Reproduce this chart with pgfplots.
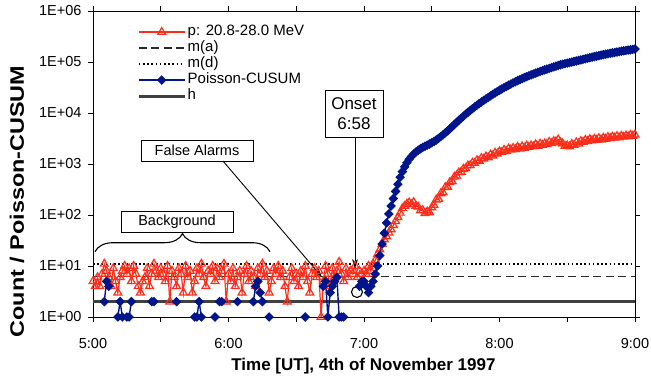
\documentclass[border=0pt]{standalone}
\usepackage{fontspec}
\setmainfont{Liberation Sans}
\usepackage{pgfplots}
\pgfplotsset{compat=1.18}
\usepackage{pgfplotstable}
\usetikzlibrary{decorations.pathreplacing,arrows.meta}
\definecolor{pred}{RGB}{255,45,25}
\definecolor{cblue}{RGB}{0,20,140}
\definecolor{hgray}{RGB}{64,64,64}
\definecolor{dgray}{RGB}{40,40,40}

\pgfplotstableread{
t p c
0 5 nan
1 4 nan
2 6 nan
3 4 nan
4 7 nan
5 11 2
6 8 5
7 6 4
8 4 nan
9 9 nan
10 5 nan
11 3 1
12 6 2
13 8 1
14 10 nan
15 7 1
16 9 1
17 5 2
18 10 nan
19 7 nan
20 4 nan
21 3 nan
22 5 nan
23 6 nan
24 9 nan
25 4 nan
26 7 2
27 11 2
28 8 nan
29 6 nan
30 9 nan
31 7 nan
32 5 nan
33 10 nan
34 2 nan
35 8 nan
36 6 nan
37 4 2
38 9 nan
39 7 nan
40 3 nan
41 10 nan
42 6 nan
43 8 nan
44 3 nan
45 5 1
46 9 1
47 7 2
48 11 1
49 6 nan
50 4 nan
51 8 nan
52 7 nan
53 10 nan
54 5 1
55 9 nan
56 6 2
57 8 2
58 11 nan
59 2 nan
60 7 nan
61 5 nan
62 9 nan
63 4 nan
64 6 2
65 8 nan
66 3 nan
67 7 nan
68 10 nan
69 5 nan
70 8 nan
71 6 2
72 4 4
73 9 5
74 7 3
75 11 2
76 6 nan
77 8 nan
78 3 1
79 5 nan
80 9 nan
81 7 nan
82 10 nan
83 6 nan
84 8 nan
85 4 nan
86 2 nan
87 6 nan
88 9 nan
89 5 nan
90 7 nan
91 4 nan
92 8 nan
93 6 nan
94 10 1
95 5 nan
96 3 nan
97 7 nan
98 9 nan
99 6 nan
100 8 nan
101 1 nan
102 5 4
103 10 5
104 7 1
105 4 3
106 9 4
107 6 5
108 8 6
109 12 1
110 7 1
111 5 1
112 9 nan
113 6 nan
114 8 nan
115 7 nan
116 10 nan
117 6 nan
118 8 4
119 7 5
120 8 5
121 7 4
122 10 3
123 8 4
124 11 5
125 13 7
126 17 10
127 21 16
128 27 27
129 33 44
130 38 70
131 45 105
132 52 150
133 63 210
134 75 290
135 90 400
136 110 550
137 135 710
138 150 880
139 165 1060
140 175 1240
141 160 1410
142 178 1570
143 150 1720
144 145 1860
145 122 1990
146 124 2110
147 108 2230
148 116 2350
149 112 2470
150 140 2610
151 155 2770
152 200 2960
153 205 3180
154 265 3440
155 275 3740
156 350 4080
157 355 4460
158 440 4900
159 460 5400
160 560 5950
161 590 6550
162 680 7200
163 700 7900
164 800 8650
165 820 9450
166 930 10300
167 940 11200
168 1050 12150
169 1030 13150
170 1180 14200
171 1150 15300
172 1300 16450
173 1260 17650
174 1400 18900
175 1340 20250
176 1520 21650
177 1450 23100
178 1650 24650
179 1580 26250
180 1760 27900
181 1700 29600
182 1880 31400
183 1780 33200
184 2000 35050
185 1900 37000
186 2050 38950
187 1950 40950
188 2150 43000
189 2000 45100
190 2200 47200
191 2050 49350
192 2280 51550
193 2150 53750
194 2300 56000
195 2200 58300
196 2420 60600
197 2250 62900
198 2480 65250
199 2350 67650
200 2500 70050
201 2450 72500
202 2700 75000
203 2550 77600
204 2800 80200
205 2750 82800
206 3000 85600
207 2650 88300
208 2500 90800
209 2250 93100
210 2300 95300
211 2200 97500
212 2450 99800
213 2350 102200
214 2650 104700
215 2500 107300
216 2800 110000
217 2700 112800
218 2950 115600
219 2800 118500
220 3050 121500
221 2900 124500
222 3100 127500
223 2950 130500
224 3200 133500
225 3000 136500
226 3250 139400
227 3100 142300
228 3350 145200
229 3200 148100
230 3400 151000
231 3250 153900
232 3500 156800
233 3300 159700
234 3550 162600
235 3400 165500
236 3600 168400
237 3450 171300
238 3700 174200
239 3550 177100
240 3750 180000
}\data

\begin{document}
\begin{tikzpicture}
\begin{axis}[
  at={(0pt,0pt)}, anchor=south west,
  scale only axis, width=542pt, height=306pt,
  xmin=0, xmax=240, ymode=log, log basis y=10, ymin=1, ymax=1e6,
  xtick={0,60,120,180,240},
  xticklabels={5:00,6:00,7:00,8:00,9:00},
  minor xtick={30,90,150,210},
  ytick={1,10,100,1000,10000,100000,1000000},
  yticklabels={1E+00,1E+01,1E+02,1E+03,1E+04,1E+05,1E+06},
  tick align=outside, major tick length=5pt, minor tick length=5pt,
  tick style={black, line width=0.8pt},
  axis line style={line width=0.8pt},
  ticklabel style={font=\fontsize{14.5}{17}\selectfont},
  xticklabel style={yshift=-13pt},
  yticklabel style={xshift=-3pt},
  clip=false,
  unbounded coords=jump,
  xlabel={Time [UT], 4th of November 1997},
  xlabel style={font=\fontsize{17}{20}\selectfont\bfseries, at={(axis description cs:0.499,-0.1732)}, anchor=base},
  ylabel={\scalebox{1.2}[1]{Count / Poisson-CUSUM}},
  ylabel style={font=\fontsize{19.5}{22}\selectfont\bfseries, at={(axis description cs:-0.1402,0.3775)}, anchor=center},
  legend style={at={(0.0812,0.958)}, anchor=north west, draw=none, fill=none,
    inner sep=0pt, row sep=0pt, column sep=0pt,
    font=\fontsize{15}{17}\selectfont,
    nodes={inner sep=1.5pt, text height=10pt, text depth=3pt}},
  legend cell align=left,
  legend image code/.code={\draw[mark repeat=2,mark phase=2,#1] plot coordinates {(0pt,0pt) (23pt,0pt) (46pt,0pt)};},
]
\addplot[dgray, line width=1.4pt, dash pattern=on 8pt off 4.5pt, forget plot] coordinates {(0,6.3) (240,6.3)};
\addplot[black, line width=1.6pt, dash pattern=on 1.6pt off 2.6pt, forget plot] coordinates {(0,10.8) (240,10.8)};
\addplot[hgray, line width=3pt, forget plot] coordinates {(0,2) (240,2)};
\addplot[pred, line width=1.2pt, mark=triangle, mark size=4.5pt, mark options={solid, line width=1.2pt}, forget plot] table[x=t,y=p]{\data};
\addplot[cblue, line width=1.4pt, mark=square*, mark size=2.7pt, mark options={solid, rotate=45}, forget plot] table[x=t,y=c]{\data};

\addlegendimage{pred, line width=1.2pt, mark=triangle, mark size=4.5pt, mark options={solid, line width=1.2pt, fill=white}}
\addlegendentry{p: 20.8-28.0 MeV}
\addlegendimage{dgray, line width=1.4pt, dash pattern=on 8pt off 4.5pt}
\addlegendentry{m(a)}
\addlegendimage{black, line width=1.6pt, dash pattern=on 1.6pt off 2.6pt}
\addlegendentry{m(d)}
\addlegendimage{cblue, line width=1.4pt, mark=square*, mark size=2.7pt, mark options={solid, rotate=45}}
\addlegendentry{Poisson-CUSUM}
\addlegendimage{hgray, line width=3pt}
\addlegendentry{h}

\node[draw, line width=0.9pt, fill=white, font=\fontsize{17}{20}\selectfont, align=center, minimum width=58pt, minimum height=47pt, inner sep=0pt] at (rel axis cs:0.4815,0.665) {Onset\\6:58};
\draw[line width=0.9pt, -{Stealth[length=9pt,width=6pt]}] (rel axis cs:0.4834,0.588) -- (rel axis cs:0.4834,0.160);
\draw[line width=1.1pt] (rel axis cs:0.487,0.0817) circle (5.5pt);
\node[draw, line width=0.9pt, fill=white, font=\fontsize{14.5}{17}\selectfont, minimum width=112pt, minimum height=21pt, inner sep=0pt] at (rel axis cs:0.1919,0.5441) {False Alarms};
\draw[line width=0.9pt, -{Stealth[length=9pt,width=6pt]}] (rel axis cs:0.2398,0.5098) -- (rel axis cs:0.4220,0.1317);
\node[draw, line width=0.9pt, fill=white, font=\fontsize{14.5}{17}\selectfont, minimum width=112pt, minimum height=21pt, inner sep=0pt] at (rel axis cs:0.155,0.312) {Background};
\draw[decorate, decoration={brace, amplitude=18pt}, line width=1.1pt] (rel axis cs:0.0037,0.2134) -- (rel axis cs:0.3266,0.2134);
\end{axis}
\pgfresetboundingbox
\path[use as bounding box] (-93pt,-61pt) rectangle (558pt,317pt);
\end{tikzpicture}
\end{document}
